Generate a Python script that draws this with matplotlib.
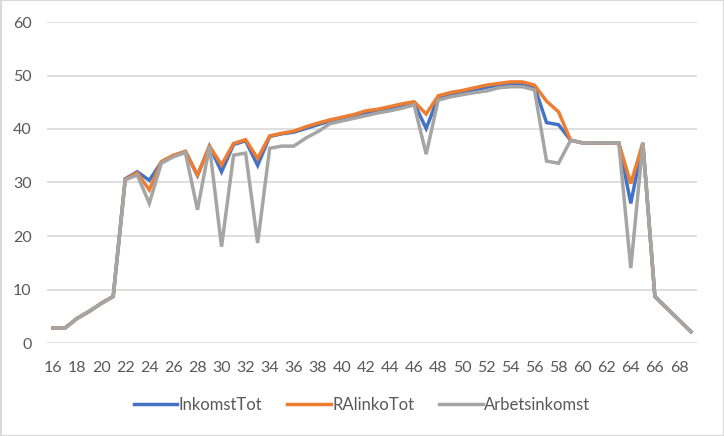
import matplotlib
matplotlib.use("Agg")
import matplotlib.pyplot as plt
from matplotlib.patches import Rectangle

ages = list(range(16, 70))

inkomst_tot = [2.8, 2.8, 4.6, 5.9, 7.4, 8.7, 30.7, 32.0, 30.4, 33.8, 35.0, 35.8,
               31.3, 36.8, 32.0, 37.1, 37.8, 33.2, 38.6, 39.1, 39.4, 40.1, 40.8,
               41.5, 41.9, 42.4, 43.0, 43.5, 43.9, 44.4, 44.8, 40.1, 45.9, 46.5,
               46.9, 47.3, 47.8, 48.2, 48.5, 48.5, 47.9, 41.2, 40.8, 37.9, 37.4,
               37.4, 37.4, 37.4, 26.1, 37.4, 8.7, 6.5, 4.3, 2.1]
ralinko_tot = [2.8, 2.8, 4.6, 5.9, 7.4, 8.7, 30.6, 31.8, 28.6, 33.9, 35.1, 35.8,
               31.4, 36.8, 33.3, 37.3, 38.0, 34.5, 38.7, 39.2, 39.6, 40.4, 41.1,
               41.7, 42.2, 42.7, 43.4, 43.7, 44.2, 44.7, 45.1, 42.8, 46.2, 46.8,
               47.2, 47.7, 48.2, 48.5, 48.8, 48.8, 48.2, 45.2, 43.2, 37.9, 37.4,
               37.4, 37.4, 37.4, 29.8, 37.4, 8.7, 6.5, 4.3, 2.1]
arbetsinkomst = [2.8, 2.8, 4.6, 5.9, 7.4, 8.7, 30.5, 31.4, 26.1, 33.6, 34.8, 35.6,
                 24.9, 36.8, 18.0, 35.1, 35.5, 18.7, 36.4, 36.8, 36.8, 38.3, 39.5,
                 41.0, 41.5, 42.0, 42.5, 43.0, 43.4, 43.9, 44.5, 35.3, 45.4, 46.0,
                 46.4, 46.8, 47.1, 47.7, 47.9, 47.9, 47.3, 34.0, 33.6, 37.9, 37.4,
                 37.4, 37.4, 37.4, 14.0, 37.4, 8.7, 6.5, 4.3, 2.1]

series_names = ["InkomstTot", "RAlinkoTot", "Arbetsinkomst"]
colors = ["#4472C4", "#ED7D31", "#A5A5A5"]
xticks = list(range(16, 69, 2))
yticks = [0, 10, 20, 30, 40, 50, 60]

plt.rcParams['font.family'] = ['Lato', 'DejaVu Sans']

fig = plt.figure(figsize=(7.24, 4.36), dpi=100)
ax = fig.add_axes([47/724, 1 - 343/436, 650/724, 321/436])

for vals, name, c in zip([inkomst_tot, ralinko_tot, arbetsinkomst], series_names, colors):
    ax.plot(ages, vals, color=c, lw=2.5, label=name, solid_joinstyle='miter')

ax.set_xlim(15.5, 69.5)
ax.set_ylim(0, 60)
ax.set_yticks(yticks)
ax.set_xticks(xticks)
ax.set_xticklabels([str(t) for t in xticks])
ax.grid(axis='y', color='#D9D9D9', lw=1.2)
ax.set_axisbelow(True)
for s in ax.spines.values():
    s.set_visible(False)
ax.tick_params(length=0, labelsize=11.5, colors='#595959')
ax.tick_params(axis='y', pad=11)
ax.tick_params(axis='x', pad=13)

leg = fig.legend(loc='center', bbox_to_anchor=(0.5, 1 - 405/436), ncol=3, frameon=False,
                 fontsize=12, handlelength=2.6, columnspacing=1.5, handletextpad=0.1)
for t in leg.get_texts():
    t.set_color('#595959')

fig.patches.append(Rectangle((0.5/724, 0.5/436), 1 - 1/724, 1 - 1/436, transform=fig.transFigure,
                             fill=False, edgecolor='#D9D9D9', lw=1.5))

fig.savefig('out.png', dpi=100, facecolor='white')
